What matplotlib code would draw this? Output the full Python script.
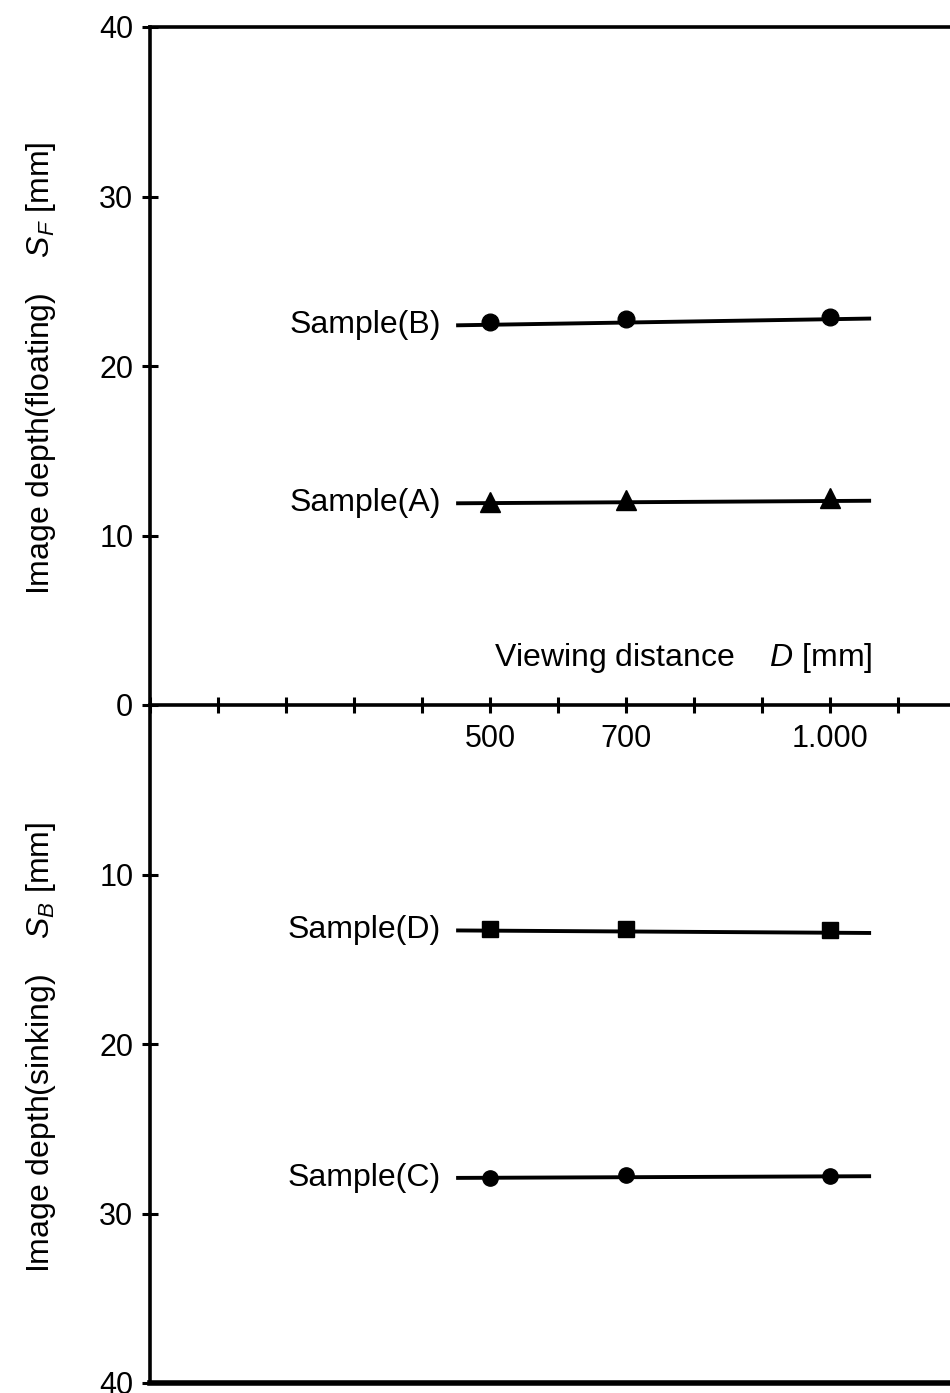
import matplotlib
matplotlib.use("Agg")
import matplotlib.pyplot as plt
from matplotlib.ticker import FuncFormatter

plt.rcParams['font.family'] = ['Liberation Sans', 'DejaVu Sans']
plt.rcParams['mathtext.fontset'] = 'custom'
plt.rcParams['mathtext.rm'] = 'Liberation Sans'
plt.rcParams['mathtext.it'] = 'Liberation Sans:italic'

# viewing distance D [mm]
distance = [500, 700, 1000]
# floating depth (positive up), sinking depth (negative down)
sample_a = [12.0, 12.1, 12.2]
sample_b = [22.6, 22.8, 22.9]
sample_c = [-27.9, -27.7, -27.8]
sample_d = [-13.2, -13.2, -13.3]

# drawn trend lines
line_span = [450, 1060]
fit_a = [11.9, 12.05]
fit_b = [22.4, 22.8]
fit_c = [-27.9, -27.8]
fit_d = [-13.3, -13.45]

x_ticks = list(range(0, 1200, 100))
x_labels = {500: "500", 700: "700", 1000: "1.000"}
y_ticks = [-40, -30, -20, -10, 0, 10, 20, 30, 40]

fig = plt.figure(figsize=(9.5, 13.93), dpi=100)
ax = fig.add_axes([150 / 950, 10 / 1393, 800 / 950, 1356 / 1393])
ax.set_xlim(0, 1176)
ax.set_ylim(-40, 40)

series = [
    ("Sample(B)", sample_b, fit_b, "o", 12),
    ("Sample(A)", sample_a, fit_a, "^", 14),
    ("Sample(D)", sample_d, fit_d, "s", 11),
    ("Sample(C)", sample_c, fit_c, "o", 11),
]
for name, vals, fit, mk, ms in series:
    ax.plot(line_span, fit, color="black", lw=2.8, solid_capstyle="butt")
    ax.plot(distance, vals, linestyle="none", marker=mk, ms=ms, color="black")
    ax.annotate(name, xy=(line_span[0], fit[0]), xytext=(-11, 0),
                textcoords="offset points", ha="right", va="center", fontsize=23)

# axes frame
ax.spines['right'].set_visible(False)
ax.spines['bottom'].set_position(('data', 0))
for s in ['left', 'top', 'bottom']:
    ax.spines[s].set_linewidth(2.6)
ax.axhline(-40, color="black", lw=4, clip_on=False)

ax.set_xticks(x_ticks)
ax.set_xticklabels([x_labels.get(t, "") for t in x_ticks])
ax.set_yticks(y_ticks)
ax.yaxis.set_major_formatter(FuncFormatter(lambda v, p: "%d" % abs(v)))
ax.tick_params(axis='both', direction='inout', length=12, width=2.2, labelsize=22)
ax.tick_params(axis='y', pad=6)
ax.tick_params(axis='x', pad=8)

ax.text(0.666, 0.535, r"Viewing distance    $D$ [mm]", transform=ax.transAxes,
        ha="center", va="center", fontsize=23)

fig.text(41 / 950, 1 - 368 / 1393, r"Image depth(floating)    $S_F$ [mm]",
         rotation=90, ha="center", va="center", fontsize=23)
fig.text(41 / 950, 1 - 1047 / 1393, r"Image depth(sinking)    $S_B$ [mm]",
         rotation=90, ha="center", va="center", fontsize=23)

fig.savefig("out.png", dpi=100)
